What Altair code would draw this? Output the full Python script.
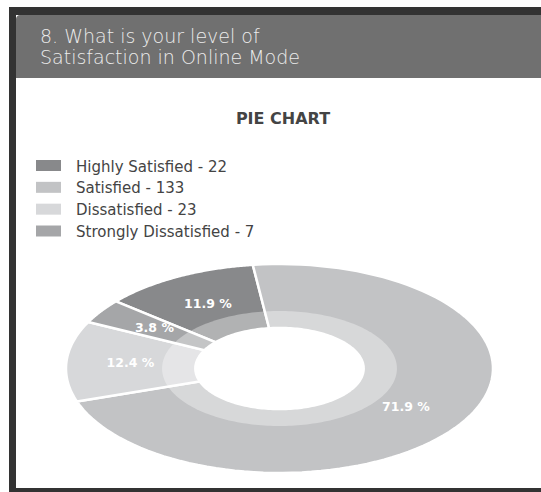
import altair as alt
import pandas as pd

# ---- data ----
categories = ["Highly Satisfied", "Satisfied", "Dissatisfied", "Strongly Dissatisfied"]
counts = [22, 133, 23, 7]
colors = ["#88898b", "#c2c3c5", "#d7d8da", "#a5a6a8"]
header_lines = ["8. What is your level of", "Satisfaction in Online Mode"]
chart_title = "PIE CHART"

START_DEG = -50.0     # angle of first slice start (clockwise from 12 o'clock)
HOLE_R = 0.40
BAND_R = 0.55
LABEL_R = 0.70
N = 100

df = pd.DataFrame({"cat": categories, "count": counts, "idx": list(range(len(categories)))})

XS = alt.Scale(domain=[-1, 1], range=[66, 493])
YS = alt.Scale(domain=[-1, 1], range=[473, 264])
FILL = alt.Scale(domain=categories, range=colors)

base = alt.Chart(df).transform_joinaggregate(
    total="sum(count)"
).transform_window(
    cum="sum(count)", sort=[alt.SortField("idx")], frame=[None, 0]
).transform_calculate(
    a0=f"{START_DEG}*PI/180 + 2*PI*(datum.cum - datum.count)/datum.total",
    a1=f"{START_DEG}*PI/180 + 2*PI*datum.cum/datum.total",
)

slices = base.transform_calculate(
    pts=f"sequence(0, {N + 2})"
).transform_flatten(["pts"], as_=["k"]).transform_calculate(
    r="datum.k == 0 ? 0 : 1",
    ang=f"datum.a0 + (datum.a1 - datum.a0) * (datum.k - 1) / {N}",
).transform_calculate(
    px="datum.r * sin(datum.ang)",
    py="datum.r * cos(datum.ang)",
).mark_line(stroke="white", strokeWidth=2.5, strokeJoin="round", interpolate="linear-closed").encode(
    x=alt.X("px:Q", scale=XS, axis=None),
    y=alt.Y("py:Q", scale=YS, axis=None),
    order=alt.Order("k:Q"),
    fill=alt.Fill("cat:N", scale=FILL, legend=None),
    detail="cat:N",
)

def ellipse(radius, opacity):
    return alt.Chart(alt.sequence(0, 241, as_="k")).transform_calculate(
        px=f"{radius} * sin(2*PI*datum.k/240)",
        py=f"{radius} * cos(2*PI*datum.k/240)",
    ).mark_line(fill="white", fillOpacity=opacity, strokeWidth=0, interpolate="linear-closed").encode(
        x=alt.X("px:Q", scale=XS, axis=None),
        y=alt.Y("py:Q", scale=YS, axis=None),
        order=alt.Order("k:Q"),
    )

band = ellipse(BAND_R, 0.35)
hole = ellipse(HOLE_R, 1.0)

labels = base.transform_calculate(
    mid="(datum.a0 + datum.a1) / 2",
    lab="format(datum.count / datum.total * 100, '.1f') + ' %'",
).transform_calculate(
    px=f"{LABEL_R} * sin(datum.mid)",
    py=f"{LABEL_R} * cos(datum.mid)",
).mark_text(color="white", font="DejaVu Sans", fontWeight="bold", fontSize=12.5,
            baseline="middle", align="center").encode(
    x=alt.X("px:Q", scale=XS, axis=None),
    y=alt.Y("py:Q", scale=YS, axis=None),
    text="lab:N",
)

# ---- legend ----
LY = alt.Scale(domain=[0, 3], range=[165.5, 231])
legend_sw = alt.Chart(df).mark_tick(orient="horizontal", thickness=11, size=25, opacity=1).encode(
    x=alt.value(48.5),
    y=alt.Y("idx:Q", scale=LY, axis=None),
    color=alt.Color("cat:N", scale=FILL, legend=None),
)
legend_tx = alt.Chart(df).transform_calculate(
    lab="datum.cat + ' - ' + datum.count"
).mark_text(align="left", baseline="middle", font="DejaVu Sans", fontSize=15, color="#444444", dy=1).encode(
    x=alt.value(76),
    y=alt.Y("idx:Q", scale=LY, axis=None),
    text="lab:N",
)

# ---- card decoration ----
one = alt.Data(values=[{}])
frame_top = alt.Chart(one).mark_rect(color="#333333").encode(
    x=alt.value(9), x2=alt.value(541), y=alt.value(7), y2=alt.value(15))
frame_left = alt.Chart(one).mark_rect(color="#333333").encode(
    x=alt.value(9), x2=alt.value(16), y=alt.value(7), y2=alt.value(492))
frame_bottom = alt.Chart(one).mark_rect(color="#333333").encode(
    x=alt.value(9), x2=alt.value(541), y=alt.value(488), y2=alt.value(492))
header = alt.Chart(one).mark_rect(color="#707070", cornerRadiusTopLeft=4).encode(
    x=alt.value(16), x2=alt.value(541), y=alt.value(15), y2=alt.value(78))

hdf = pd.DataFrame({"line": header_lines, "n": [0, 1]})
header_text = alt.Chart(hdf).mark_text(align="left", baseline="alphabetic", font="DejaVu Sans",
                                       fontSize=19, fontWeight=300, color="#ececec").encode(
    x=alt.value(40),
    y=alt.Y("n:Q", scale=alt.Scale(domain=[0, 1], range=[42.5, 63.5]), axis=None),
    text="line:N",
)
title = alt.Chart(alt.Data(values=[{"t": chart_title}])).mark_text(
    font="DejaVu Sans", fontWeight="bold", fontSize=16, color="#444444", baseline="alphabetic", align="center"
).encode(x=alt.value(283), y=alt.value(123.5), text="t:N")

chart = alt.layer(
    frame_top, frame_left, frame_bottom, header, header_text, title,
    legend_sw, legend_tx, slices, band, hole, labels
).resolve_scale(x="independent", y="independent", color="independent", fill="independent").properties(
    width=541, height=492, padding=0, autosize=alt.AutoSizeParams(type="none"), background="white"
).configure_view(stroke=None)

chart.save("out.html", embed_options={"renderer": "svg", "actions": False})
